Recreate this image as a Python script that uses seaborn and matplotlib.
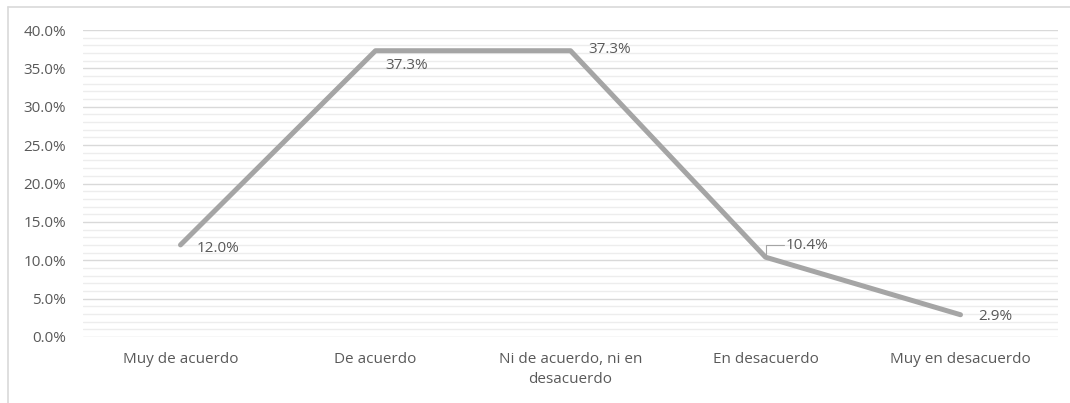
import numpy as np
import pandas as pd
import matplotlib
matplotlib.use('Agg')
import matplotlib.pyplot as plt
import seaborn as sns
from matplotlib.lines import Line2D
from matplotlib.ticker import MultipleLocator, FuncFormatter

# Data
categories = ['Muy de acuerdo', 'De acuerdo', 'Ni de acuerdo, ni en\ndesacuerdo',
              'En desacuerdo', 'Muy en desacuerdo']
values = [12.0, 37.3, 37.3, 10.4, 2.9]
labels = ['12.0%', '37.3%', '37.3%', '10.4%', '2.9%']

df = pd.DataFrame({'Respuesta': categories, 'Porcentaje': values})

sns.set_style('white')
plt.rcParams['font.family'] = ['Open Sans', 'DejaVu Sans']

text_color = '#595959'
line_color = '#A5A5A5'

fig = plt.figure(figsize=(10.7, 4.03), dpi=100)
ax = fig.add_axes([83 / 1070, 1 - 337 / 403, 975 / 1070, 307 / 403])

sns.lineplot(data=df, x='Respuesta', y='Porcentaje', ax=ax, color=line_color,
             linewidth=3.6, sort=False, solid_capstyle='round', zorder=3)

ax.set_xlim(-0.5, len(categories) - 0.5)
ax.set_ylim(0, 40)
ax.yaxis.set_major_locator(MultipleLocator(5))
ax.yaxis.set_minor_locator(MultipleLocator(1))
ax.yaxis.set_major_formatter(FuncFormatter(lambda v, p: f'{v:.1f}%'))
ax.grid(which='major', axis='y', color='#D9D9D9', linewidth=1.0)
ax.grid(which='minor', axis='y', color='#EDEDED', linewidth=1.0)
ax.set_axisbelow(True)
for s in ax.spines.values():
    s.set_visible(False)
ax.tick_params(axis='both', which='both', length=0, colors=text_color, labelsize=11)
ax.tick_params(axis='x', pad=11)
ax.tick_params(axis='y', pad=12)
ax.set_xlabel('')
ax.set_ylabel('')
for t in ax.get_xticklabels():
    t.set_linespacing(1.45)

# Data labels (offsets in pixels)
offsets = [(16, -4), (10, -15), (18, 1), (20, 12), (18, -2)]
for i, (v, lab, off) in enumerate(zip(values, labels, offsets)):
    ax.annotate(lab, (i, v), xytext=off, textcoords='offset pixels',
                ha='left', va='center', fontsize=11, color=text_color, zorder=4)

# leader line for 10.4%
ax.annotate('', (3, values[3]), xytext=(18, 12), textcoords='offset pixels',
            arrowprops=dict(arrowstyle='-', color='#A5A5A5', lw=0.8,
                            connectionstyle='angle,angleA=0,angleB=90,rad=0',
                            shrinkA=0, shrinkB=1))

# chart border (cropped)
fig.add_artist(Line2D([8 / 1070, 8 / 1070], [0, 1 - 7 / 403], transform=fig.transFigure,
                      color='#D9D9D9', linewidth=1.2))
fig.add_artist(Line2D([8 / 1070, 1], [1 - 7 / 403, 1 - 7 / 403], transform=fig.transFigure,
                      color='#D9D9D9', linewidth=1.2))

fig.savefig('out.png', dpi=100)
